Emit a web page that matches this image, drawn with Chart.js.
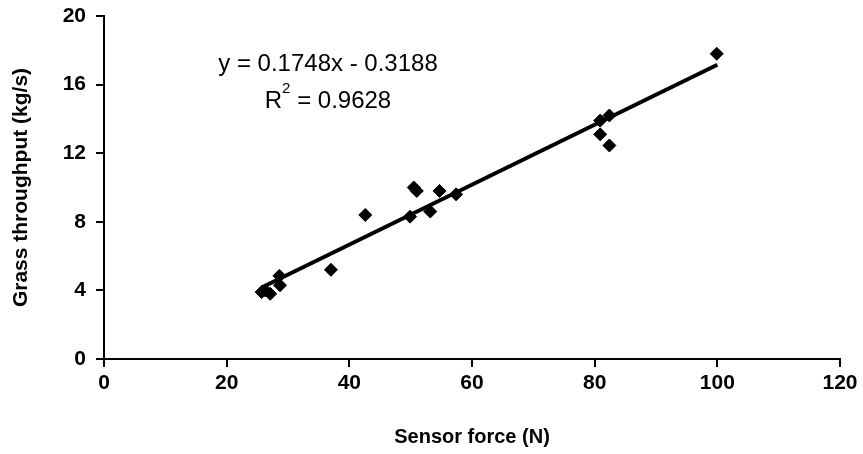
<!DOCTYPE html>
<html>
<head>
<meta charset="utf-8">
<script src="https://cdn.jsdelivr.net/npm/chart.js@4/dist/chart.umd.min.js"></script>
<style>
  html, body { margin: 0; padding: 0; background: #fff; }
  #wrap { width: 863px; height: 454px; position: relative; }
</style>
</head>
<body>
<div id="wrap"><canvas id="chart"></canvas></div>
<script>
  // sensor force (N) vs grass throughput (kg/s)
  const forceN = [25.7, 26.3, 27.1, 28.6, 28.7, 37.0, 42.6, 49.9, 50.5, 51.0, 53.2, 54.7, 57.4, 80.9, 80.9, 82.4, 82.4, 99.9];
  const throughput = [3.9, 4.0, 3.8, 4.85, 4.3, 5.2, 8.4, 8.3, 10.0, 9.8, 8.6, 9.8, 9.6, 13.9, 13.1, 14.2, 12.45, 17.8];
  // linear trendline end points
  const trendX = [25.7, 100];
  const trendY = [4.17, 17.16];
  const xTicks = [0, 20, 40, 60, 80, 100, 120];
  const yTicks = [0, 4, 8, 12, 16, 20];
  const eqText = 'y = 0.1748x - 0.3188';
  const r2Value = '0.9628';

  const FONT = "'Liberation Sans', Arial, sans-serif";

  const equationLabel = {
    id: 'equationLabel',
    afterDatasetsDraw(chart) {
      const { ctx, chartArea } = chart;
      const cx = chartArea.left + 224;
      ctx.save();
      ctx.fillStyle = '#000';
      ctx.textBaseline = 'middle';
      ctx.font = `24px ${FONT}`;
      ctx.textAlign = 'center';
      ctx.fillText(eqText, cx, chartArea.top + 48);
      // R² line with a raised 2
      const rest = ' = ' + r2Value;
      const wR = ctx.measureText('R').width;
      ctx.font = `15px ${FONT}`;
      const w2 = ctx.measureText('2').width;
      ctx.font = `24px ${FONT}`;
      const wRest = ctx.measureText(rest).width;
      const x = cx - (wR + w2 + wRest) / 2;
      const y = chartArea.top + 85;
      ctx.textAlign = 'left';
      ctx.fillText('R', x, y);
      ctx.font = `15px ${FONT}`;
      ctx.fillText('2', x + wR, y - 12);
      ctx.font = `24px ${FONT}`;
      ctx.fillText(rest, x + wR + w2, y);
      ctx.restore();
    }
  };

  new Chart(document.getElementById('chart'), {
    type: 'scatter',
    data: {
      datasets: [
        {
          label: 'Measured',
          data: forceN.map((x, i) => ({ x, y: throughput[i] })),
          pointStyle: 'rectRot',
          pointRadius: 6.5,
          backgroundColor: '#000',
          borderColor: '#000',
          borderWidth: 1,
          order: 2
        },
        {
          label: 'Linear fit',
          type: 'line',
          data: trendX.map((x, i) => ({ x, y: trendY[i] })),
          borderColor: '#000',
          borderWidth: 4,
          pointRadius: 0,
          fill: false,
          order: 1
        }
      ]
    },
    options: {
      responsive: true,
      maintainAspectRatio: false,
      animation: false,
      layout: { padding: { top: 16, right: 23, left: 0, bottom: 0 } },
      plugins: { legend: { display: false }, tooltip: { enabled: false } },
      scales: {
        x: {
          type: 'linear', min: 0, max: 120,
          afterBuildTicks: (s) => { s.ticks = xTicks.map(v => ({ value: v })); },
          afterFit: (s) => { s.height = 95; s.paddingLeft = 0; s.paddingRight = 0; },
          border: { color: '#000', width: 2 },
          grid: { drawOnChartArea: false, color: '#000', lineWidth: 2, tickLength: 8 },
          ticks: { color: '#000', padding: 4, font: { family: FONT, size: 21, weight: 'bold' } },
          title: { display: true, text: 'Sensor force (N)', color: '#000', padding: { top: 4, bottom: 5 },
            font: { family: FONT, size: 20, weight: 'bold' } }
        },
        y: {
          type: 'linear', min: 0, max: 20,
          afterBuildTicks: (s) => { s.ticks = yTicks.map(v => ({ value: v })); },
          afterFit: (s) => { s.width = 104; s.paddingTop = 0; s.paddingBottom = 0; },
          border: { color: '#000', width: 2 },
          grid: { drawOnChartArea: false, color: '#000', lineWidth: 2, tickLength: 8 },
          ticks: { color: '#000', padding: 10, font: { family: FONT, size: 21, weight: 'bold' } },
          title: { display: true, text: 'Grass throughput (kg/s)', color: '#000', padding: { top: 9, bottom: 4 },
            font: { family: FONT, size: 21, weight: 'bold' } }
        }
      }
    },
    plugins: [equationLabel]
  });
</script>
</body>
</html>
